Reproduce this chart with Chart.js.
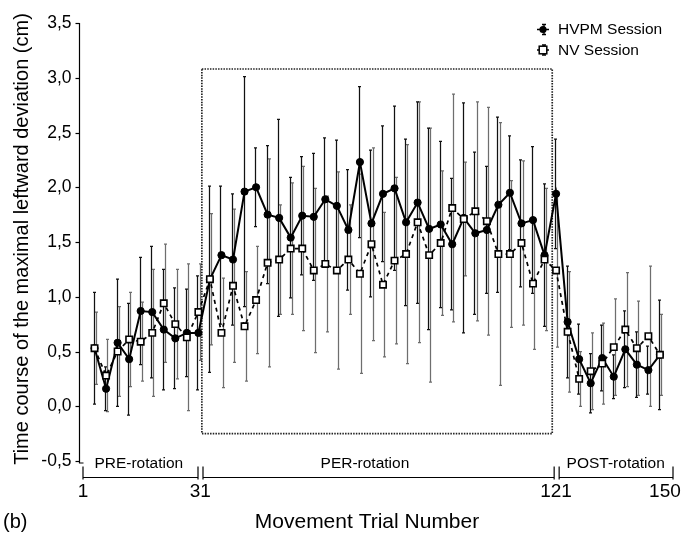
<!DOCTYPE html>
<html><head><meta charset="utf-8">
<script src="https://cdn.jsdelivr.net/npm/chart.js@4/dist/chart.umd.min.js"></script>
<style>html,body{margin:0;padding:0;background:#fff}canvas{display:block}</style>
</head><body>
<canvas id="c" width="694" height="533"></canvas>
<script>
// ---- data ----
const trials = [3,6,9,12,15,18,21,24,27,30,
  33,36,39,42,45,48,51,54,57,60,63,66,69,72,75,78,81,84,87,90,
  93,96,99,102,105,108,111,114,117,120,
  123,126,129,132,135,138,141,144,147,150];
const hvpmMean = [0.53,0.16,0.58,0.43,0.87,0.86,0.70,0.62,0.67,0.67,
  1.16,1.38,1.34,1.96,2.00,1.75,1.72,1.54,1.74,1.73,1.89,1.83,1.61,2.23,1.67,1.94,1.99,1.68,1.86,1.62,
  1.66,1.48,1.72,1.58,1.61,1.84,1.95,1.67,1.70,1.38,
  1.94,0.77,0.43,0.21,0.44,0.27,0.52,0.38,0.33,0.47];
const hvpmSD = [0.51,0.20,0.58,0.51,0.49,0.60,0.55,0.46,0.40,0.52,
  0.85,0.63,0.60,1.05,0.36,0.63,0.90,0.55,0.54,0.58,0.56,0.60,0.55,0.69,0.67,0.62,0.75,0.76,0.92,0.92,
  0.76,0.60,1.05,0.74,0.58,0.80,0.52,0.58,0.67,0.65,
  0.50,0.51,0.32,0.27,0.30,0.20,0.35,0.30,0.22,0.50];
const nvMean = [0.53,0.28,0.50,0.61,0.59,0.67,0.94,0.75,0.63,0.86,
  1.16,0.67,1.10,0.73,0.97,1.31,1.34,1.44,1.44,1.24,1.30,1.24,1.34,1.21,1.48,1.11,1.33,1.39,1.68,1.38,
  1.49,1.81,1.71,1.78,1.69,1.39,1.39,1.49,1.12,1.34,
  1.24,0.68,0.25,0.32,0.39,0.54,0.70,0.53,0.64,0.47];
const nvSD = [0.33,0.33,0.41,0.43,0.36,0.58,0.54,0.50,0.67,0.44,
  0.60,0.50,0.70,0.50,0.49,0.95,0.50,0.60,0.75,0.75,0.62,0.90,0.50,0.91,0.88,0.66,0.76,1.00,1.10,1.16,
  0.66,1.04,0.52,1.00,1.04,1.20,0.67,0.75,0.60,0.65,
  0.70,0.55,0.25,0.35,0.37,0.44,0.52,0.43,0.64,0.37];
const seriesNames = ['HVPM Session','NV Session'];
const yTicks = [-0.5,0,0.5,1,1.5,2,2.5,3,3.5];
const yTickLabels = ['-0,5','0,0','0,5','1,0','1,5','2,0','2,5','3,0','3,5'];
const xTickLabels = ['1','31','121','150'];
const xTickAt = [0,30.5,123,151.3];
const phaseLabels = ['PRE-rotation','PER-rotation','POST-rotation'];
const phaseLabelAt = [14.5,73.3,138.5];
const phaseSegments = [[0,29.9],[31.2,122.5],[123.8,153.4]];
const boxX = [30.9,122.0];
const boxY = [-0.25,3.08];
const yTitle = 'Time course of the maximal leftward deviation (cm)';
const xTitle = 'Movement Trial Number';
const panelLabel = '(b)';

const FONT = '"Liberation Sans", Arial, Helvetica, sans-serif';

const errPlugin = {
  id: 'errbars',
  beforeDatasetsDraw(chart) {
    const ctx = chart.ctx, xs = chart.scales.x, ys = chart.scales.y;
    const sets = [[nvMean, nvSD, '#6e6e6e', 1.2], [hvpmMean, hvpmSD, '#111', -1.0]];
    ctx.save();
    ctx.lineWidth = 1.25;
    for (const [m, sd, col, off] of sets) {
      ctx.strokeStyle = col;
      for (let i = 0; i < trials.length; i++) {
        const x = Math.round(xs.getPixelForValue(trials[i]) + off) + 0.5;
        const y1 = ys.getPixelForValue(m[i] + sd[i]);
        const y2 = ys.getPixelForValue(m[i] - sd[i]);
        ctx.beginPath();
        ctx.moveTo(x, y1); ctx.lineTo(x, y2);
        ctx.moveTo(x - 1.5, y1); ctx.lineTo(x + 1.5, y1);
        ctx.moveTo(x - 1.5, y2); ctx.lineTo(x + 1.5, y2);
        ctx.stroke();
      }
    }
    ctx.restore();
  }
};

const decorPlugin = {
  id: 'decor',
  beforeDatasetsDraw(chart) {
    const ctx = chart.ctx, xs = chart.scales.x, ys = chart.scales.y;
    ctx.save();
    ctx.strokeStyle = '#222'; ctx.lineWidth = 1.7; ctx.setLineDash([1.5, 1.2]);
    const bx1 = xs.getPixelForValue(boxX[0]), bx2 = xs.getPixelForValue(boxX[1]);
    const by1 = ys.getPixelForValue(boxY[1]), by2 = ys.getPixelForValue(boxY[0]);
    ctx.strokeRect(bx1, by1, bx2 - bx1, by2 - by1);
    ctx.restore();
  },
  afterDraw(chart) {
    const ctx = chart.ctx, xs = chart.scales.x, ys = chart.scales.y;
    ctx.save();
    ctx.strokeStyle = '#000'; ctx.fillStyle = '#000'; ctx.lineWidth = 1.2;
    const ax = xs.left - 3.5;
    const yTop = ys.getPixelForValue(yTicks[yTicks.length - 1]);
    const yBot = ys.getPixelForValue(yTicks[0]);
    ctx.beginPath(); ctx.moveTo(ax, yTop); ctx.lineTo(ax, yBot + 2); ctx.lineTo(ax + 4, yBot + 2); ctx.stroke();
    ctx.font = '17.5px ' + FONT; ctx.textAlign = 'right'; ctx.textBaseline = 'middle';
    yTicks.forEach((v, i) => {
      const y = Math.round(ys.getPixelForValue(v)) + 0.5;
      ctx.beginPath(); ctx.moveTo(ax - 4, y); ctx.lineTo(ax, y); ctx.stroke();
      ctx.fillText(yTickLabels[i], ax - 8, y);
    });
    const lineY = 477.5;
    ctx.lineWidth = 1.2;
    phaseSegments.forEach(([a, b]) => {
      const x1 = xs.getPixelForValue(a), x2 = xs.getPixelForValue(b);
      ctx.beginPath();
      ctx.moveTo(x1, lineY); ctx.lineTo(x2, lineY);
      ctx.moveTo(x1, lineY - 11); ctx.lineTo(x1, lineY + 2);
      ctx.moveTo(x2, lineY - 11); ctx.lineTo(x2, lineY + 2);
      ctx.stroke();
    });
    ctx.font = '15.5px ' + FONT; ctx.textAlign = 'center'; ctx.textBaseline = 'middle';
    phaseLabels.forEach((s, i) => ctx.fillText(s, xs.getPixelForValue(phaseLabelAt[i]), 464));
    ctx.font = '19px ' + FONT;
    xTickLabels.forEach((s, i) => ctx.fillText(s, xs.getPixelForValue(xTickAt[i]), 492));
    ctx.font = '21px ' + FONT;
    ctx.fillText(xTitle, 367, 522);
    ctx.textAlign = 'left';
    ctx.font = '20px ' + FONT;
    ctx.fillText(panelLabel, 3, 522);
    ctx.save();
    ctx.translate(22, 239); ctx.rotate(-Math.PI / 2);
    ctx.textAlign = 'center'; ctx.font = '20px ' + FONT;
    ctx.fillText(yTitle, 0, 0);
    ctx.restore();
    const lx = 543, rows = [29.5, 50];
    ctx.font = '15.5px ' + FONT; ctx.textAlign = 'left'; ctx.textBaseline = 'middle';
    rows.forEach((ry, i) => {
      ctx.strokeStyle = '#000'; ctx.lineWidth = 1.3; ctx.setLineDash([]);
      ctx.beginPath();
      ctx.moveTo(lx - 6, ry); ctx.lineTo(lx + 6, ry);
      ctx.moveTo(lx + 1, ry - 5); ctx.lineTo(lx + 1, ry + 5);
      ctx.moveTo(lx - 1, ry - 5); ctx.lineTo(lx + 3, ry - 5);
      ctx.moveTo(lx - 1, ry + 5); ctx.lineTo(lx + 3, ry + 5);
      ctx.stroke();
      if (i === 0) {
        ctx.beginPath(); ctx.arc(lx, ry, 3.6, 0, Math.PI * 2); ctx.fill();
      } else {
        ctx.fillStyle = '#fff'; ctx.fillRect(lx - 3.8, ry - 3.8, 7.6, 7.6);
        ctx.lineWidth = 1.5; ctx.strokeRect(lx - 3.8, ry - 3.8, 7.6, 7.6);
        ctx.fillStyle = '#000';
      }
      ctx.fillText(seriesNames[i], 558, ry + 0.5);
    });
    ctx.restore();
  }
};

new Chart(document.getElementById('c'), {
  type: 'line',
  data: {
    datasets: [
      {
        label: seriesNames[0],
        data: trials.map((t, i) => ({x: t, y: hvpmMean[i]})),
        borderColor: '#000', borderWidth: 2,
        pointStyle: 'circle', pointRadius: 3.6, pointBackgroundColor: '#000', pointBorderColor: '#000', pointBorderWidth: 1,
        tension: 0, order: 2, clip: false
      },
      {
        label: seriesNames[1],
        data: trials.map((t, i) => ({x: t, y: nvMean[i]})),
        borderColor: '#000', borderWidth: 1.7, borderDash: [4, 4],
        pointStyle: 'rect', pointRadius: 4.5, pointBackgroundColor: '#fff', pointBorderColor: '#000', pointBorderWidth: 1.6,
        tension: 0, order: 1, clip: false
      }
    ]
  },
  options: {
    responsive: false, animation: false, events: [],
    layout: {padding: {left: 83, right: 21, top: 23, bottom: 72}},
    scales: {
      x: {type: 'linear', min: 0, max: 153.4, display: false},
      y: {type: 'linear', min: -0.5, max: 3.5, display: false}
    },
    plugins: {legend: {display: false}, tooltip: {enabled: false}}
  },
  plugins: [errPlugin, decorPlugin]
});
</script>
</body></html>
